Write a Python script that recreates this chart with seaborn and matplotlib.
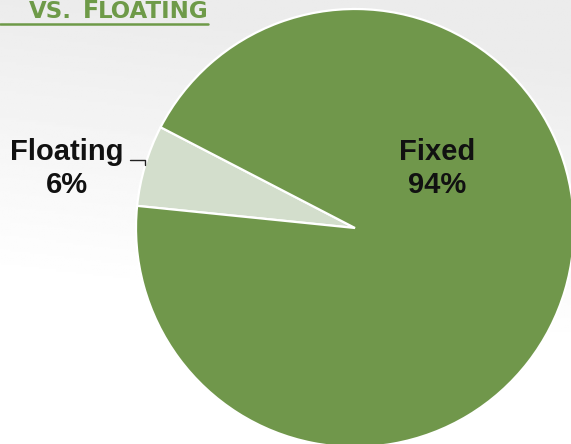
import numpy as np
import matplotlib
matplotlib.use("Agg")
import matplotlib.pyplot as plt
import seaborn as sns

# Share of debt by rate type
categories = ["Floating", "Fixed"]
shares = [6, 94]
slice_colors = ["#D3DECC", "#70974B"]

# Title pieces (small caps: full-size initial, smaller remainder)
title_small_left = "VS."
title_initial = "F"
title_small_right = "LOATING"

sns.set_theme(style="white")
plt.rcParams["font.family"] = ["Liberation Sans", "DejaVu Sans"]

W, H, DPI = 571, 444, 100
fig = plt.figure(figsize=(W / DPI, H / DPI), dpi=DPI)

# soft grey backdrop fading to white toward the bottom
bg = fig.add_axes([0, 0, 1, 1], zorder=0)
yy = np.linspace(0, 1, 200)[:, None]
xx = np.linspace(0, 1, 200)[None, :]
shade = 0.925 + 0.075 * np.clip(yy * 1.6 - xx * 0.25, 0, 1)
bg.imshow(shade, cmap="gray", vmin=0, vmax=1, aspect="auto", extent=(0, 1, 1, 0))
bg.set_axis_off()

ax = fig.add_axes([0, 0, 1, 1], zorder=1)
ax.patch.set_alpha(0)

wedges, _ = ax.pie(
    shares,
    colors=slice_colors,
    startangle=152.6,
    counterclock=True,
    radius=1,
    wedgeprops=dict(edgecolor="white", linewidth=1.6),
)

# pie radius of 219 px, centred at (355, 228) from the top-left corner
R = 219.0
ax.set_xlim(-355 / R, (W - 355) / R)
ax.set_ylim(-(H - 228) / R, 228 / R)
ax.set_aspect("auto")
ax.set_axis_off()

label_font = dict(fontsize=21, fontweight="bold", color="#111111",
                  ha="center", va="center", linespacing=1.22)

# Fixed label inside the large slice
ax.text(0.374, 0.27, f"{categories[1]}\n{shares[1]}%", **label_font)

# Floating label outside, with a small elbow leader
ax.text(-1.315, 0.27, f"{categories[0]}\n{shares[0]}%", **label_font)
w = wedges[0]
mid = np.deg2rad((w.theta1 + w.theta2) / 2)
ax.annotate(
    "",
    xy=(np.cos(mid), np.sin(mid)),
    xytext=(-15, 5),
    textcoords="offset pixels",
    arrowprops=dict(arrowstyle="-", color="#222222", lw=1.0,
                    connectionstyle="angle,angleA=0,angleB=90,rad=0",
                    shrinkA=0, shrinkB=0),
)

# Title, right edge at x=208 px, baseline just above the underline
green = "#6E9A48"
fig.canvas.draw()
renderer = fig.canvas.get_renderer()
title_font = dict(fontweight="bold", color=green, family=["DejaVu Sans"],
                  va="baseline", ha="right")
base_y = 1 - 17.5 / H
right = 209
pieces = [(title_small_right, 16.5, 0), (title_initial, 17, -1), (title_small_left, 16.5, 11)]
for text, size, gap in pieces:
    right -= gap
    t = fig.text(right / W, base_y, text, fontsize=size, zorder=3, **title_font)
    bb = t.get_window_extent(renderer)
    right = bb.x0

fig.add_artist(plt.Line2D([0, 208 / W], [1 - 24.5 / H, 1 - 24.5 / H],
                          color=green, lw=1.8, transform=fig.transFigure, zorder=3))

fig.savefig("out.png", dpi=DPI)
